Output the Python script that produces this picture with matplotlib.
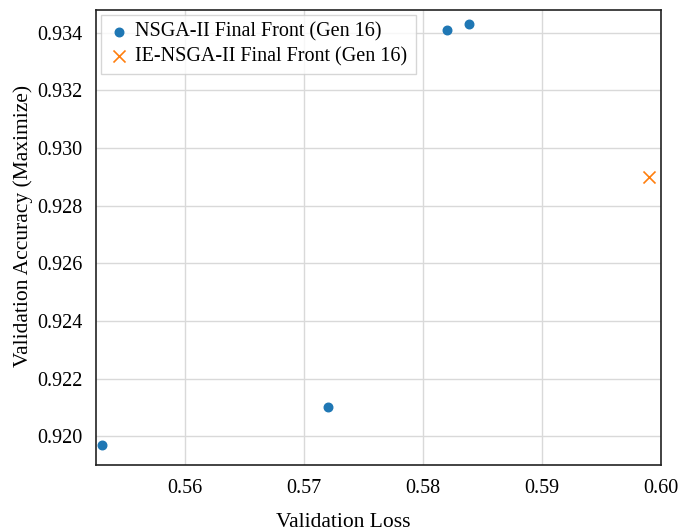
import matplotlib.pyplot as plt

plt.rcParams['font.family'] = ['Liberation Serif', 'DejaVu Serif']
plt.rcParams['font.size'] = 14.5

# final fronts after generation 16
nsga_loss = [0.5530, 0.5720, 0.5820, 0.5839]
nsga_acc = [0.9197, 0.9210, 0.9341, 0.9343]
ie_loss = [0.5990]
ie_acc = [0.9290]

fig = plt.figure(figsize=(6.92, 5.31), dpi=100)
ax = fig.add_axes([0.139, 0.124, 0.816, 0.858])

ax.scatter(nsga_loss, nsga_acc, s=38, color='#1f77b4', zorder=3,
           label='NSGA-II Final Front (Gen 16)')
ax.scatter(ie_loss, ie_acc, s=75, marker='x', color='#ff7f0e', linewidths=1.2,
           zorder=3, label='IE-NSGA-II Final Front (Gen 16)')

ax.set_xlim(0.5525, 0.600)
ax.set_ylim(0.9190, 0.9348)
ax.set_xticks([0.56, 0.57, 0.58, 0.59, 0.60])
ax.set_yticks([0.920, 0.922, 0.924, 0.926, 0.928, 0.930, 0.932, 0.934])
ax.set_yticklabels(['%.3f' % v for v in ax.get_yticks()])
ax.set_xticklabels(['%.2f' % v for v in ax.get_xticks()])
ax.tick_params(length=0, pad=10)
ax.grid(True, color='#d9d9d9', linewidth=1)
ax.set_axisbelow(True)
for sp in ax.spines.values():
    sp.set_color('#222222')
    sp.set_linewidth(1.2)

ax.set_xlabel('Validation Loss', fontsize=15.5)
ax.set_ylabel('Validation Accuracy (Maximize)', fontsize=15.5)
ax.xaxis.set_label_coords(0.437, -0.105)
ax.yaxis.set_label_coords(-0.112, 0.526)

leg = ax.legend(loc='upper left', fancybox=False, edgecolor='#cccccc',
                fontsize=14.5, handletextpad=0.3, borderpad=0.4,
                labelspacing=0.25, handlelength=1.0, borderaxespad=0.25)
leg.get_frame().set_linewidth(1)

fig.savefig('out.png', dpi=100)
